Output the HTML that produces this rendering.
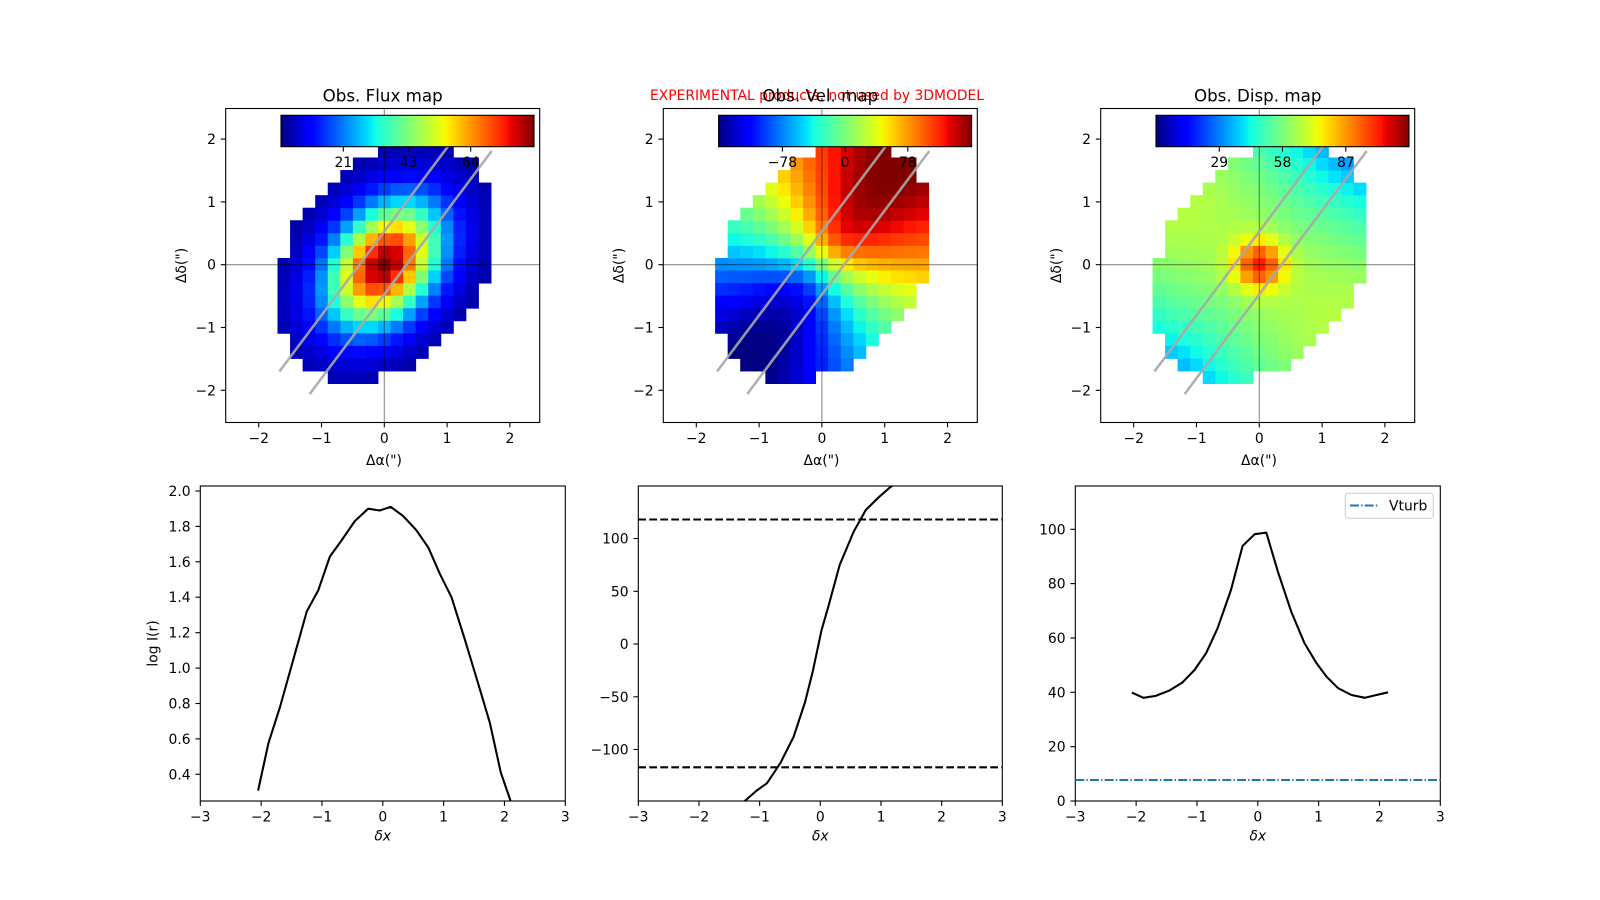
<!DOCTYPE html>
<html><head><meta charset="utf-8"><style>
body{margin:0;background:#fff}
svg{display:block}
text{font-family:"DejaVu Sans","Liberation Sans",sans-serif;fill:#000}
.t{font-size:13.9px}
.ti{font-size:16.7px}
</style></head><body>
<svg id="s" width="1600" height="900" viewBox="0 0 1600 900" xmlns="http://www.w3.org/2000/svg">
<defs>
<linearGradient id="jet" x1="0" x2="1" y1="0" y2="0">
<stop offset="0" stop-color="#000080"/><stop offset="0.11" stop-color="#0000ff"/><stop offset="0.125" stop-color="#0000ff"/>
<stop offset="0.34" stop-color="#00dbff"/><stop offset="0.35" stop-color="#00e5f8"/><stop offset="0.375" stop-color="#14ffe2"/>
<stop offset="0.64" stop-color="#eeff08"/><stop offset="0.65" stop-color="#f7f500"/><stop offset="0.66" stop-color="#ffec00"/>
<stop offset="0.89" stop-color="#ff1300"/><stop offset="0.91" stop-color="#e80000"/><stop offset="1" stop-color="#800000"/>
</linearGradient>
<clipPath id="cb1"><rect x="200.3" y="486" width="365" height="315"/></clipPath>
<clipPath id="cb2"><rect x="638.3" y="486" width="364" height="315"/></clipPath>
<clipPath id="cb3"><rect x="1075.3" y="486" width="365" height="315"/></clipPath>
</defs>
<g id="cells"></g>
<g id="over"></g>

<text class="ti" x="382.7" y="101.5" text-anchor="middle">Obs. Flux map</text>
<text class="t" x="817" y="100" text-anchor="middle" style="fill:#ff0000" textLength="334" lengthAdjust="spacingAndGlyphs">EXPERIMENTAL products, not used by 3DMODEL</text>
<text class="ti" x="820.3" y="101.5" text-anchor="middle">Obs. Vel. map</text>
<text class="ti" x="1257.7" y="101.5" text-anchor="middle">Obs. Disp. map</text>

<g class="t" text-anchor="middle">
<text x="258.7" y="443">−2</text><text x="321.5" y="443">−1</text><text x="384.3" y="443">0</text><text x="447.1" y="443">1</text><text x="509.9" y="443">2</text>
<text x="696.3" y="443">−2</text><text x="759.1" y="443">−1</text><text x="821.9" y="443">0</text><text x="884.7" y="443">1</text><text x="947.5" y="443">2</text>
<text x="1133.7" y="443">−2</text><text x="1196.5" y="443">−1</text><text x="1259.3" y="443">0</text><text x="1322.1" y="443">1</text><text x="1384.9" y="443">2</text>
<text x="384" y="465">Δα(")</text><text x="821.5" y="465">Δα(")</text><text x="1259" y="465">Δα(")</text>
</g>
<g class="t" text-anchor="end">
<text x="216" y="144.1">2</text><text x="216" y="206.9">1</text><text x="216" y="269.7">0</text><text x="216" y="332.5">−1</text><text x="216" y="395.3">−2</text>
<text x="653.6" y="144.1">2</text><text x="653.6" y="206.9">1</text><text x="653.6" y="269.7">0</text><text x="653.6" y="332.5">−1</text><text x="653.6" y="395.3">−2</text>
<text x="1091" y="144.1">2</text><text x="1091" y="206.9">1</text><text x="1091" y="269.7">0</text><text x="1091" y="332.5">−1</text><text x="1091" y="395.3">−2</text>
</g>
<g class="t" text-anchor="middle">
<text transform="translate(186,265.5) rotate(-90)">Δδ(")</text>
<text transform="translate(623.5,265.5) rotate(-90)">Δδ(")</text>
<text transform="translate(1061,265.5) rotate(-90)">Δδ(")</text>
</g>
<g class="t" text-anchor="middle">
<text x="343.3" y="167">21</text><text x="408.7" y="167">43</text><text x="470.7" y="167">64</text>
<text x="782.4" y="167">−78</text><text x="845.1" y="167">0</text><text x="907.8" y="167">78</text>
<text x="1219.3" y="167">29</text><text x="1282.5" y="167">58</text><text x="1345.8" y="167">87</text>
</g>

<g class="t" text-anchor="middle">
<text x="200.3" y="821.7">−3</text><text x="261.1" y="821.7">−2</text><text x="322" y="821.7">−1</text><text x="382.8" y="821.7">0</text><text x="443.6" y="821.7">1</text><text x="504.5" y="821.7">2</text><text x="565.3" y="821.7">3</text>
<text x="638.3" y="821.7">−3</text><text x="699" y="821.7">−2</text><text x="759.6" y="821.7">−1</text><text x="820.3" y="821.7">0</text><text x="881" y="821.7">1</text><text x="941.6" y="821.7">2</text><text x="1002.3" y="821.7">3</text>
<text x="1075.3" y="821.7">−3</text><text x="1136.1" y="821.7">−2</text><text x="1197" y="821.7">−1</text><text x="1257.8" y="821.7">0</text><text x="1318.6" y="821.7">1</text><text x="1379.5" y="821.7">2</text><text x="1440.3" y="821.7">3</text>
<text x="382.8" y="840.5" font-style="italic">δx</text><text x="820.3" y="840.5" font-style="italic">δx</text><text x="1257.8" y="840.5" font-style="italic">δx</text>
</g>
<g class="t" text-anchor="end">
<text x="190.6" y="779.3">0.4</text><text x="190.6" y="743.9">0.6</text><text x="190.6" y="708.5">0.8</text><text x="190.6" y="673.1">1.0</text><text x="190.6" y="637.7">1.2</text><text x="190.6" y="602.2">1.4</text><text x="190.6" y="566.8">1.6</text><text x="190.6" y="531.4">1.8</text><text x="190.6" y="496">2.0</text>
<text x="628.6" y="543.5">100</text><text x="628.6" y="596.3">50</text><text x="628.6" y="649">0</text><text x="628.6" y="701.8">−50</text><text x="628.6" y="754.5">−100</text>
<text x="1065.6" y="806">0</text><text x="1065.6" y="751.7">20</text><text x="1065.6" y="697.3">40</text><text x="1065.6" y="643">60</text><text x="1065.6" y="588.6">80</text><text x="1065.6" y="534.3">100</text>
</g>
<text class="t" text-anchor="middle" transform="translate(153.5,643.5) rotate(-90)" dominant-baseline="central">log I(r)</text>
<rect x="1345.3" y="493.3" width="88" height="25" rx="3" fill="#fff" fill-opacity="0.8" stroke="#cccccc" stroke-width="1"/>
<line x1="1350" y1="505.5" x2="1378" y2="505.5" stroke="#1f77b4" stroke-width="2.08" stroke-dasharray="8.9,2.2,1.4,2.2"/>
<text class="t" x="1389" y="510.5">Vturb</text>
</svg>
<script>
function interp(pts,v){for(let k=1;k<pts.length;k++){if(v<=pts[k][0]){const a=pts[k-1],b=pts[k];return a[1]+(b[1]-a[1])*(v-a[0])/(b[0]-a[0]);}}return pts[pts.length-1][1];}
const R=[[0,0],[0.35,0],[0.66,1],[0.89,1],[1,0.5]],G=[[0,0],[0.125,0],[0.375,1],[0.64,1],[0.91,0],[1,0]],B=[[0,0.5],[0.11,1],[0.34,1],[0.65,0],[1,0]];
function jet(v){v=Math.max(0,Math.min(1,v));const c=[R,G,B].map(p=>Math.round(255*interp(p,v)));return `rgb(${c[0]},${c[1]},${c[2]})`;}
const rows={9:[0,5],8:[-2,7],7:[-3,7],6:[-4,8],5:[-5,8],4:[-6,8],3:[-7,8],2:[-7,8],1:[-7,8],0:[-8,8],"-1":[-8,8],"-2":[-8,7],"-3":[-8,7],"-4":[-8,6],"-5":[-8,5],"-6":[-7,4],"-7":[-7,3],"-8":[-6,2],"-9":[-4,-1]};
const S=62.8,T=108.5;
function rot(x,y){return [0.6*x+0.8*y,-0.8*x+0.6*y];}
const flux=(x,y)=>{const[a,b]=rot(x,y);return 2+83*Math.exp(-(a*a/(2*0.55)+b*b/(2*0.27)));};
const vel=(x,y)=>{const[a,b]=rot(x,y);const ci=0.69;const r=Math.sqrt(a*a+(b/ci)*(b/ci));if(r<1e-6)return 0;return 168*r/Math.sqrt(r*r+0.35)*a/r;};
const disp=(x,y)=>{const[a,b]=rot(x,y);return 62-6.5*a*a+3*Math.abs(b)+40*Math.exp(-(x*x+y*y)/(2*0.08));};
let h='';
function panel(L,f,vmin,vmax){
 for(const j in rows){const[i0,i1]=rows[j];for(let i=i0;i<=i1;i++){const x=0.2*i,y=0.2*j;const v=(f(x,y)-vmin)/(vmax-vmin);
  const X=L+(x-0.1+2.525)*S,Y=T+(2.48-(y+0.1))*S;
  h+=`<rect x="${X.toFixed(2)}" y="${Y.toFixed(2)}" width="13.0" height="13.0" fill="${jet(v)}"/>`;}}
}
panel(225.7,flux,0,85.5);panel(663.3,vel,-157.4,157.4);panel(1100.7,disp,0,116);
document.getElementById('cells').innerHTML=h;
let o='';
const tops=[[225.7,281,[343.3,408.7,470.7]],[663.3,718.6,[782.4,845.1,907.8]],[1100.7,1156,[1219.3,1282.5,1345.8]]];
for(const[L,cb,tk] of tops){
 const X0=L+158.6,Y0=264.7;
 o+=`<line x1="${X0}" y1="${T}" x2="${X0}" y2="${T+314}" stroke="#000" stroke-opacity="0.45" stroke-width="1.1"/>`;
 o+=`<line x1="${L}" y1="${Y0}" x2="${L+314}" y2="${Y0}" stroke="#000" stroke-opacity="0.45" stroke-width="1.1"/>`;
 const P=(x,y)=>[(X0+x*S).toFixed(1),(Y0-y*S).toFixed(1)];
 for(const[a,b] of [[[-1.67,-1.70],[1.23,2.17]],[[-1.19,-2.06],[1.71,1.81]]]){const p=P(...a),q=P(...b);o+=`<line x1="${p[0]}" y1="${p[1]}" x2="${q[0]}" y2="${q[1]}" stroke="#a8a8a8" stroke-width="2.6" stroke-opacity="0.9"/>`;}
 o+=`<rect x="${L}" y="${T}" width="314" height="314" fill="none" stroke="#000" stroke-width="1.1"/>`;
 for(let k=-2;k<=2;k++){const x=X0+k*S,y=Y0-k*S;o+=`<line x1="${x}" y1="${T+314}" x2="${x}" y2="${T+318.9}" stroke="#000" stroke-width="1.1"/><line x1="${L}" y1="${y}" x2="${L-4.9}" y2="${y}" stroke="#000" stroke-width="1.1"/>`;}
 o+=`<rect x="${cb}" y="115.3" width="253" height="31.4" fill="url(#jet)" stroke="#000" stroke-width="1.1"/>`;
 for(const t of tk)o+=`<line x1="${t}" y1="146.7" x2="${t}" y2="151.6" stroke="#000" stroke-width="1.1"/>`;
}
const bot=[[200.3,365],[638.3,364],[1075.3,365]];
for(const[L,W] of bot){o+=`<rect x="${L}" y="486" width="${W}" height="315" fill="none" stroke="#000" stroke-width="1.1"/>`;
 for(let k=0;k<=6;k++){const x=L+k*W/6;o+=`<line x1="${x}" y1="801" x2="${x}" y2="805.9" stroke="#000" stroke-width="1.1"/>`;}}
const yt=[[200.3,[774.3,738.9,703.5,668.1,632.7,597.2,561.8,526.4,491]],[638.3,[538.5,591.3,644,696.8,749.5]],[1075.3,[801,746.7,692.3,638,583.6,529.3]]];
for(const[L,ys] of yt)for(const y of ys)o+=`<line x1="${L}" y1="${y}" x2="${L-4.9}" y2="${y}" stroke="#000" stroke-width="1.1"/>`;
function poly(pts,fx,fy,clip){return `<polyline clip-path="url(#${clip})" fill="none" stroke="#000" stroke-width="2.08" stroke-linejoin="round" points="${pts.map(p=>fx(p[0]).toFixed(1)+','+fy(p[1]).toFixed(1)).join(' ')}"/>`;}
const d1=[[-2.05,0.308],[-1.88,0.575],[-1.69,0.78],[-1.25,1.32],[-1.06,1.44],[-0.87,1.63],[-0.68,1.72],[-0.46,1.83],[-0.24,1.90],[-0.05,1.89],[0.13,1.91],[0.33,1.86],[0.55,1.78],[0.75,1.68],[0.94,1.53],[1.13,1.40],[1.35,1.16],[1.57,0.91],[1.76,0.69],[1.94,0.41],[2.15,0.2]];
o+=poly(d1,x=>200.3+(x+3)*60.83,y=>774.3-(y-0.4)*177.06,'cb1');
const d2=[[-1.45,-158],[-1.27,-150],[-1.05,-139],[-0.88,-132],[-0.66,-113],[-0.44,-88],[-0.25,-55],[-0.12,-25],[0.02,13],[0.13,35],[0.32,75],[0.55,106.5],[0.75,127],[0.96,139],[1.15,148.5],[1.35,156]];
o+=poly(d2,x=>638.3+(x+3)*60.67,v=>644-v*1.055,'cb2');
o+=`<line x1="638.3" y1="519.5" x2="1002.3" y2="519.5" stroke="#000" stroke-width="2.08" stroke-dasharray="7.7,3.3"/>`;
o+=`<line x1="638.3" y1="767.3" x2="1002.3" y2="767.3" stroke="#000" stroke-width="2.08" stroke-dasharray="7.7,3.3"/>`;
const d3=[[-2.07,39.9],[-1.88,38],[-1.68,38.7],[-1.46,40.6],[-1.24,43.6],[-1.04,48.2],[-0.85,54.4],[-0.66,63.6],[-0.44,77.7],[-0.25,93.9],[-0.05,98.2],[0.14,98.8],[0.33,84.4],[0.55,69.7],[0.77,58],[0.96,50.9],[1.13,45.8],[1.32,41.5],[1.54,39],[1.76,38],[1.95,39],[2.14,40]];
o+=poly(d3,x=>1075.3+(x+3)*60.83,v=>801-v*2.717,'cb3');
o+=`<line x1="1075.3" y1="780" x2="1440.3" y2="780" stroke="#1f77b4" stroke-width="2.08" stroke-dasharray="8.9,2.2,1.4,2.2"/>`;
document.getElementById('over').innerHTML=o;
</script>
</body></html>
